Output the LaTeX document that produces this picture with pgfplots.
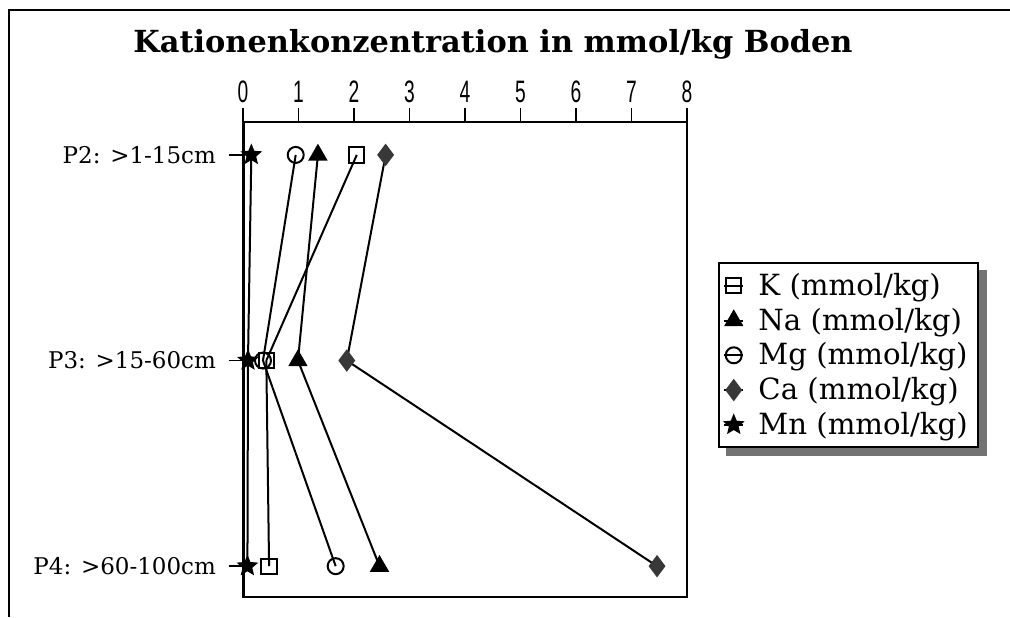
\documentclass[border=0pt]{standalone}
\usepackage{pgfplots}
\pgfplotsset{compat=1.18}
\usepackage{fontspec}
\setmainfont{DejaVu Serif}
\newfontfamily\tickfont{Liberation Sans}
\usetikzlibrary{backgrounds}

% filled five-pointed star
\pgfdeclareplotmark{fstar}{%
  \pgfpathmoveto{\pgfpointpolar{90}{\pgfplotmarksize}}%
  \pgfpathlineto{\pgfpointpolar{126}{0.45\pgfplotmarksize}}%
  \pgfpathlineto{\pgfpointpolar{162}{\pgfplotmarksize}}%
  \pgfpathlineto{\pgfpointpolar{198}{0.45\pgfplotmarksize}}%
  \pgfpathlineto{\pgfpointpolar{234}{\pgfplotmarksize}}%
  \pgfpathlineto{\pgfpointpolar{270}{0.45\pgfplotmarksize}}%
  \pgfpathlineto{\pgfpointpolar{306}{\pgfplotmarksize}}%
  \pgfpathlineto{\pgfpointpolar{342}{0.45\pgfplotmarksize}}%
  \pgfpathlineto{\pgfpointpolar{18}{\pgfplotmarksize}}%
  \pgfpathlineto{\pgfpointpolar{54}{0.45\pgfplotmarksize}}%
  \pgfpathclose
  \pgfusepathqfillstroke}

\begin{document}
\begin{tikzpicture}
\useasboundingbox (-121.5pt,-10pt) rectangle (383.5pt,298.5pt);
% outer frame
\draw[line width=1pt] (-117pt,-10pt) -- (-117pt,293.5pt) -- (383.5pt,293.5pt);

\begin{axis}[
  at={(0pt,0pt)}, anchor=south west,
  scale only axis,
  width=222pt, height=237.5pt,
  xmin=0, xmax=8,
  ymin=0.84, ymax=3.15,
  y dir=reverse,
  axis line style={line width=1pt},
  xtick={0,...,8},
  xtick pos=upper,
  xticklabel pos=upper,
  tick align=outside,
  major tick length=7pt,
  tick style={line width=0.8pt, black},
  xticklabel={\scalebox{0.62}[1]{\pgfmathprintnumber{\tick}}},
  xticklabel style={font=\tickfont\fontsize{15.5}{15.5}\selectfont, yshift=-1pt},
  /pgf/number format/assume math mode=true,
  ytick={1,2,3},
  ytick pos=left,
  yticklabels={{P2: >1-15cm},{P3: >15-60cm},{P4: >60-100cm}},
  yticklabel style={font=\fontsize{11.5}{12}\selectfont, xshift=-3pt},
  every axis plot/.append style={line width=1pt, black},
  legend style={at={(1.07,0.705)}, anchor=north west, name=legbox,
    draw=black, line width=1pt, fill=white,
    font=\fontsize{14.6}{16}\selectfont,
    inner xsep=2pt, inner ysep=3pt, row sep=0.8pt,
    nodes={inner xsep=3pt},
    /tikz/every odd column/.append style={column sep=4pt},
    legend cell align=left},
  legend image code/.code={%
    \draw[line width=1pt] (0cm,0cm) -- (0.34cm,0cm);
    \draw[line width=1pt,only marks] plot coordinates {(0.17cm,0cm)};},
]
\addplot[mark=square, mark size=3.8pt, mark options={fill=white, line width=1pt}]
  coordinates {(2.05,1) (0.42,2) (0.47,3)};
\addlegendentry{K (mmol/kg)}
\addplot[mark=triangle*, mark size=4.6pt, mark options={fill=black}]
  coordinates {(1.35,1) (0.99,2) (2.46,3)};
\addlegendentry{Na (mmol/kg)}
\addplot[mark=o, mark size=4pt, mark options={fill=white, line width=1pt}]
  coordinates {(0.95,1) (0.36,2) (1.67,3)};
\addlegendentry{Mg (mmol/kg)}
\addplot[mark=diamond*, mark size=4.8pt, mark options={fill=black!78, draw=black!78}]
  coordinates {(2.57,1) (1.87,2) (7.46,3)};
\addlegendentry{Ca (mmol/kg)}
\addplot[mark=fstar, mark size=4.4pt, mark options={fill=black}]
  coordinates {(0.15,1) (0.09,2) (0.08,3)};
\addlegendentry{Mn (mmol/kg)}
\draw[line width=2.5pt] (rel axis cs:0,0) -- (rel axis cs:0,1);
\end{axis}

% shadow of the legend box
\begin{pgfonlayer}{background}
\fill[black!55] ([shift={(4pt,-4pt)}]legbox.south west) rectangle ([shift={(4pt,-4pt)}]legbox.north east);
\end{pgfonlayer}

\node[font=\bfseries\fontsize{15.2}{17}\selectfont] at (125pt,276.5pt) {Kationenkonzentration in mmol/kg Boden};
\end{tikzpicture}
\end{document}
